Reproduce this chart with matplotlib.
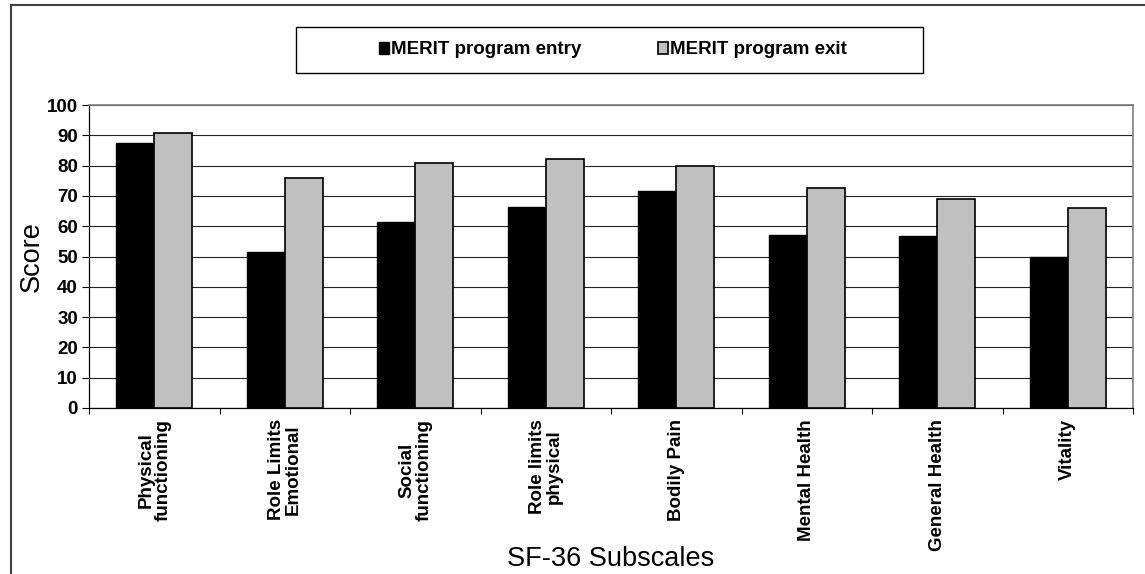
import numpy as np
import matplotlib
matplotlib.use('Agg')
import matplotlib.pyplot as plt
from matplotlib.patches import Rectangle
from matplotlib.lines import Line2D

plt.rcParams['font.family'] = ['Liberation Sans', 'DejaVu Sans']

# Data
subscales = ['Physical\nfunctioning', 'Role Limits\nEmotional', 'Social\nfunctioning',
             'Role limits\nphysical', 'Bodily Pain', 'Mental Health',
             'General Health', 'Vitality']
entry = [87.6, 51.5, 61.3, 66.2, 71.5, 57.1, 56.8, 49.9]
exit_ = [90.7, 75.9, 80.8, 82.3, 79.9, 72.7, 69.0, 65.9]
series_names = ['MERIT program entry', 'MERIT program exit']

W, H = 1145, 574
fs = 13.5
fig = plt.figure(figsize=(W / 100, H / 100), dpi=100)
ax = fig.add_axes([89 / W, 1 - 408 / H, (1133 - 89) / W, (408 - 105) / H])

x = np.arange(len(subscales))
bw = 0.29
b1 = ax.bar(x - bw / 2, entry, bw, color='black', edgecolor='black', linewidth=1.0,
            zorder=3, label=series_names[0])
b2 = ax.bar(x + bw / 2, exit_, bw, color='#C0C0C0', edgecolor='black', linewidth=1.2,
            zorder=3, label=series_names[1])

ax.set_xlim(-0.5, len(subscales) - 0.5)
ax.set_ylim(0, 100)
ax.set_yticks(np.arange(0, 101, 10))
ax.yaxis.grid(True, color='#222222', linewidth=0.8, zorder=0)
ax.set_axisbelow(True)

# category labels at centres, tick marks at boundaries
ax.set_xticks(x)
ax.set_xticklabels(subscales, rotation=90, fontweight='bold', fontsize=fs,
                   ha='center', va='top', multialignment='center', linespacing=1.0)
ax.set_xticks(np.arange(-0.5, len(subscales), 1.0), minor=True)
ax.tick_params(axis='x', which='major', length=0, pad=8)
ax.tick_params(axis='x', which='minor', length=4, width=0.8, direction='out')
ax.tick_params(axis='y', length=5, width=0.8, direction='out', pad=3, labelsize=fs)
for lab in ax.get_yticklabels():
    lab.set_fontweight('bold')

for s in ['left', 'bottom']:
    ax.spines[s].set_color('black')
    ax.spines[s].set_linewidth(0.9)
for s in ['top', 'right']:
    ax.spines[s].set_color('#808080')
    ax.spines[s].set_linewidth(1.2)

ax.set_ylabel('Score', fontsize=19.5, va='center')
ax.yaxis.set_label_coords(-0.055, 0.5)
ax.set_xlabel('SF-36 Subscales', fontsize=19.5, va='center')
ax.xaxis.set_label_coords(0.5, -0.50)

# legend with its own box
fig.legend(handles=[b1, b2], loc='center', bbox_to_anchor=(613 / W, 1 - 50 / H),
           ncol=2, frameon=False, prop={'weight': 'bold', 'size': fs},
           handlelength=0.55, handleheight=0.55, handletextpad=0.1, columnspacing=4.1)
fig.patches.append(Rectangle((296 / W, 1 - 73 / H), (923 - 296) / W, 46 / H,
                             transform=fig.transFigure, fill=False,
                             edgecolor='black', linewidth=1.0))

# chart area border (left and top only visible)
fig.lines.append(Line2D([11 / W, 11 / W], [0, 1 - 5 / H], transform=fig.transFigure,
                        color='#404040', linewidth=1.5))
fig.lines.append(Line2D([11 / W, 1], [1 - 5 / H, 1 - 5 / H], transform=fig.transFigure,
                        color='#404040', linewidth=1.5))

fig.savefig('out.png', dpi=100)
